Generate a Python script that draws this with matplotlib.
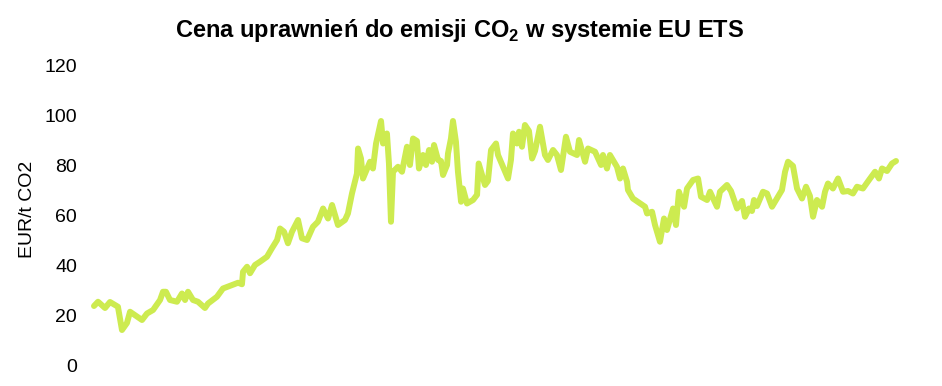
import matplotlib
matplotlib.use("Agg")
from matplotlib import pyplot as plt

# EU ETS allowance price (decimal year, EUR/t CO2)
years = [
    2020.000, 2020.030, 2020.082, 2020.119, 2020.178, 2020.208, 2020.245, 2020.268,
    2020.357, 2020.394, 2020.439, 2020.491, 2020.513, 2020.535, 2020.565, 2020.617,
    2020.654, 2020.677, 2020.699, 2020.736, 2020.773, 2020.825, 2020.848, 2020.914,
    2020.959, 2021.071, 2021.100, 2021.108, 2021.138, 2021.160, 2021.197, 2021.234,
    2021.286, 2021.323, 2021.361, 2021.383, 2021.413, 2021.442, 2021.472, 2021.517,
    2021.546, 2021.584, 2021.628, 2021.665, 2021.703, 2021.740, 2021.770, 2021.814,
    2021.866, 2021.888, 2021.918, 2021.955, 2021.963, 2021.985, 2022.000, 2022.052,
    2022.074, 2022.097, 2022.134, 2022.149, 2022.178, 2022.193, 2022.208, 2022.223,
    2022.260, 2022.290, 2022.327, 2022.349, 2022.372, 2022.401, 2022.416, 2022.446,
    2022.468, 2022.491, 2022.513, 2022.528, 2022.558, 2022.580, 2022.595, 2022.625,
    2022.632, 2022.654, 2022.669, 2022.691, 2022.706, 2022.729, 2022.743, 2022.773,
    2022.818, 2022.848, 2022.860, 2022.907, 2022.929, 2022.952, 2022.989, 2023.004,
    2023.078, 2023.100, 2023.115, 2023.145, 2023.160, 2023.182, 2023.204, 2023.234,
    2023.257, 2023.279, 2023.316, 2023.353, 2023.375, 2023.413, 2023.442, 2023.472,
    2023.509, 2023.539, 2023.591, 2023.606, 2023.651, 2023.673, 2023.725, 2023.770,
    2023.784, 2023.814, 2023.836, 2023.888, 2023.911, 2023.933, 2023.963, 2023.970,
    2024.007, 2024.097, 2024.112, 2024.149, 2024.171, 2024.186, 2024.208, 2024.238,
    2024.260, 2024.305, 2024.327, 2024.349, 2024.387, 2024.409, 2024.454, 2024.491,
    2024.513, 2024.558, 2024.580, 2024.632, 2024.654, 2024.706, 2024.736, 2024.781,
    2024.818, 2024.840, 2024.870, 2024.892, 2024.907, 2024.929, 2024.974, 2025.004,
    2025.041, 2025.115, 2025.138, 2025.160, 2025.197, 2025.227, 2025.264, 2025.294,
    2025.323, 2025.346, 2025.375, 2025.413, 2025.435, 2025.457, 2025.494, 2025.532,
    2025.569, 2025.606, 2025.643, 2025.673, 2025.717, 2025.770, 2025.807, 2025.836,
    2025.859, 2025.896, 2025.933, 2025.963,
]
prices = [
    24.0, 25.7, 23.2, 25.6, 23.7, 14.4, 17.2, 21.7,
    18.4, 21.0, 22.4, 26.4, 29.7, 29.7, 26.4, 25.7,
    29.0, 26.4, 29.7, 26.4, 25.7, 23.2, 25.0, 27.7,
    31.0, 33.3, 32.7, 37.7, 39.7, 37.1, 40.4, 41.7,
    43.7, 47.1, 50.4, 55.0, 53.7, 49.1, 53.7, 58.4,
    51.1, 50.4, 55.7, 57.7, 63.0, 59.0, 64.4, 56.4,
    58.4, 61.0, 69.0, 77.0, 87.0, 83.0, 75.0, 81.7,
    79.0, 89.0, 98.0, 89.0, 93.0, 81.0, 57.7, 77.7,
    79.7, 77.7, 87.7, 80.4, 91.0, 90.0, 79.0, 84.4,
    80.4, 86.4, 81.7, 88.4, 82.4, 82.0, 76.4, 80.4,
    85.0, 91.0, 98.0, 89.7, 77.7, 65.7, 71.0, 65.0,
    66.4, 68.5, 81.0, 72.4, 74.0, 86.4, 89.0, 84.4,
    75.0, 82.4, 93.0, 89.0, 93.7, 87.7, 96.4, 94.0,
    83.0, 86.0, 95.7, 84.4, 82.4, 86.4, 84.4, 78.4,
    91.7, 85.7, 84.4, 90.4, 81.7, 87.0, 85.7, 80.4,
    84.4, 79.0, 84.4, 79.7, 75.0, 79.0, 73.7, 70.4,
    67.0, 63.7, 61.0, 61.7, 56.4, 53.7, 49.7, 59.0,
    54.4, 63.0, 56.4, 69.7, 63.7, 71.0, 74.4, 75.0,
    67.7, 66.4, 69.7, 63.7, 69.7, 72.4, 70.0, 63.0,
    66.0, 59.7, 63.0, 62.0, 66.4, 64.0, 69.7, 69.0,
    63.7, 70.4, 77.7, 81.7, 80.0, 71.0, 67.0, 71.7,
    68.0, 59.7, 66.4, 63.7, 69.7, 73.0, 71.0, 75.0,
    69.7, 70.0, 69.0, 71.7, 71.0, 75.0, 77.7, 75.0,
    79.0, 78.0, 81.0, 82.0,
]
y_ticks = [0, 20, 40, 60, 80, 100, 120]

plt.rcParams['font.family'] = ['Liberation Sans', 'DejaVu Sans']
plt.rcParams['mathtext.fontset'] = 'custom'
plt.rcParams['mathtext.rm'] = 'Liberation Sans'
plt.rcParams['mathtext.bf'] = 'Liberation Sans:bold'

fig = plt.figure(figsize=(9.42, 3.86), dpi=100)
ax = fig.add_axes([88 / 942, 20 / 386, 814 / 942, 300 / 386])

ax.plot(years, prices, color="#cdeb50", linewidth=4.3, solid_joinstyle="round",
        solid_capstyle="round", clip_on=False)

ax.set_xlim(2020 - 6 / 134.5, 2020 - 6 / 134.5 + 814 / 134.5)
ax.set_ylim(0, 120)
ax.set_yticks(y_ticks)
ax.set_xticks([])
ax.tick_params(axis="y", length=0, pad=8, labelsize=14)
for s in ax.spines.values():
    s.set_visible(False)

ax.set_ylabel("EUR/t CO2", fontsize=14)
ax.yaxis.set_label_coords(-0.064, 0.523)

fig.text(460 / 942, 1 - 30 / 386, r"Cena uprawnień do emisji CO$_\mathbf{2}$ w systemie EU ETS",
         ha="center", va="center", fontsize=17, fontweight="bold")

fig.savefig("out.png", dpi=100)
